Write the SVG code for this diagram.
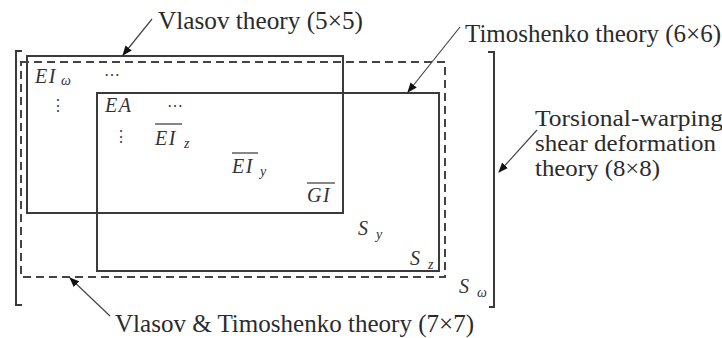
<svg xmlns="http://www.w3.org/2000/svg" width="722" height="338" viewBox="0 0 722 338">
<defs>
<style>
.lbl{font-family:"Liberation Serif","Times New Roman",serif;font-size:25px;fill:#2b2b2b}
.lbs{font-family:"Liberation Serif","Times New Roman",serif;font-size:23px;fill:#2b2b2b}
.m{font-family:"Liberation Serif","Times New Roman",serif;font-style:italic;font-size:20px;fill:#333;letter-spacing:1.5px}
.sub{font-family:"Liberation Serif","Times New Roman",serif;font-style:italic;font-size:14px;fill:#333}
.dots{font-family:"DejaVu Serif",serif;font-size:16px;fill:#444}
.solid{fill:none;stroke:#3a3a3a;stroke-width:2}
.dash{fill:none;stroke:#444;stroke-width:2;stroke-dasharray:8 5}
.br{fill:none;stroke:#3a3a3a;stroke-width:2}
.arr{stroke:#444;stroke-width:1.2;fill:none;marker-end:url(#ah)}
.ov{stroke:#444;stroke-width:1.3}
</style>
<marker id="ah" viewBox="0 0 10 8" refX="9" refY="4" markerWidth="10" markerHeight="8" markerUnits="userSpaceOnUse" orient="auto">
<path d="M0,0 L10,4 L0,8 z" fill="#111"/>
</marker>
</defs>

<g id="bracket-left"><path class="br" d="M22,51 H16 V305 H22"/></g>
<g id="bracket-right"><path class="br" d="M488,52 H494 V307 H489"/></g>

<g id="vlasov-box"><rect class="solid" x="27" y="56" width="316" height="157"/></g>
<g id="vt-box"><rect class="dash" x="21" y="62" width="424" height="215"/></g>
<g id="timoshenko-box"><rect class="solid" x="97" y="93" width="342" height="178"/></g>

<g id="entries">
<text class="m" x="35" y="83">EI</text><text class="sub" x="61" y="85">ω</text>
<text class="dots" x="104" y="80">⋯</text>
<text class="dots" x="50" y="111">⋮</text>
<text class="m" x="105" y="112">EA</text>
<text class="dots" x="167" y="111">⋯</text>
<text class="dots" x="113" y="142">⋮</text>
<line class="ov" x1="155" y1="124" x2="182" y2="124"/>
<text class="m" x="155" y="145">EI</text><text class="sub" x="184" y="148">z</text>
<line class="ov" x1="232" y1="153" x2="258" y2="153"/>
<text class="m" x="232" y="173">EI</text><text class="sub" x="260" y="176">y</text>
<line class="ov" x1="307" y1="183" x2="335" y2="183"/>
<text class="m" x="307" y="202">GI</text>
<text class="m" x="358" y="235">S</text><text class="sub" x="376" y="239">y</text>
<text class="m" x="410" y="265">S</text><text class="sub" x="428" y="269">z</text>
<text class="m" x="459" y="293">S</text><text class="sub" x="477" y="297">ω</text>
</g>

<g id="connectors">
<line class="arr" x1="152" y1="19" x2="123" y2="55"/>
<line class="arr" x1="460" y1="27" x2="408" y2="92"/>
<line class="arr" x1="537" y1="130" x2="499" y2="172"/>
<line class="arr" x1="110" y1="316" x2="70" y2="278"/>
</g>

<g id="labels">
<text class="lbl" x="158" y="29" textLength="205" lengthAdjust="spacingAndGlyphs">Vlasov theory (5×5)</text>
<text class="lbl" x="465" y="42" textLength="256" lengthAdjust="spacingAndGlyphs">Timoshenko theory (6×6)</text>
<text class="lbs" x="535" y="126" textLength="188" lengthAdjust="spacingAndGlyphs">Torsional-warping</text>
<text class="lbs" x="535" y="151" textLength="181" lengthAdjust="spacingAndGlyphs">shear deformation</text>
<text class="lbs" x="535" y="176" textLength="125" lengthAdjust="spacingAndGlyphs">theory (8×8)</text>
<text class="lbl" x="115" y="332" textLength="359" lengthAdjust="spacingAndGlyphs">Vlasov &amp; Timoshenko theory (7×7)</text>
</g>
</svg>
